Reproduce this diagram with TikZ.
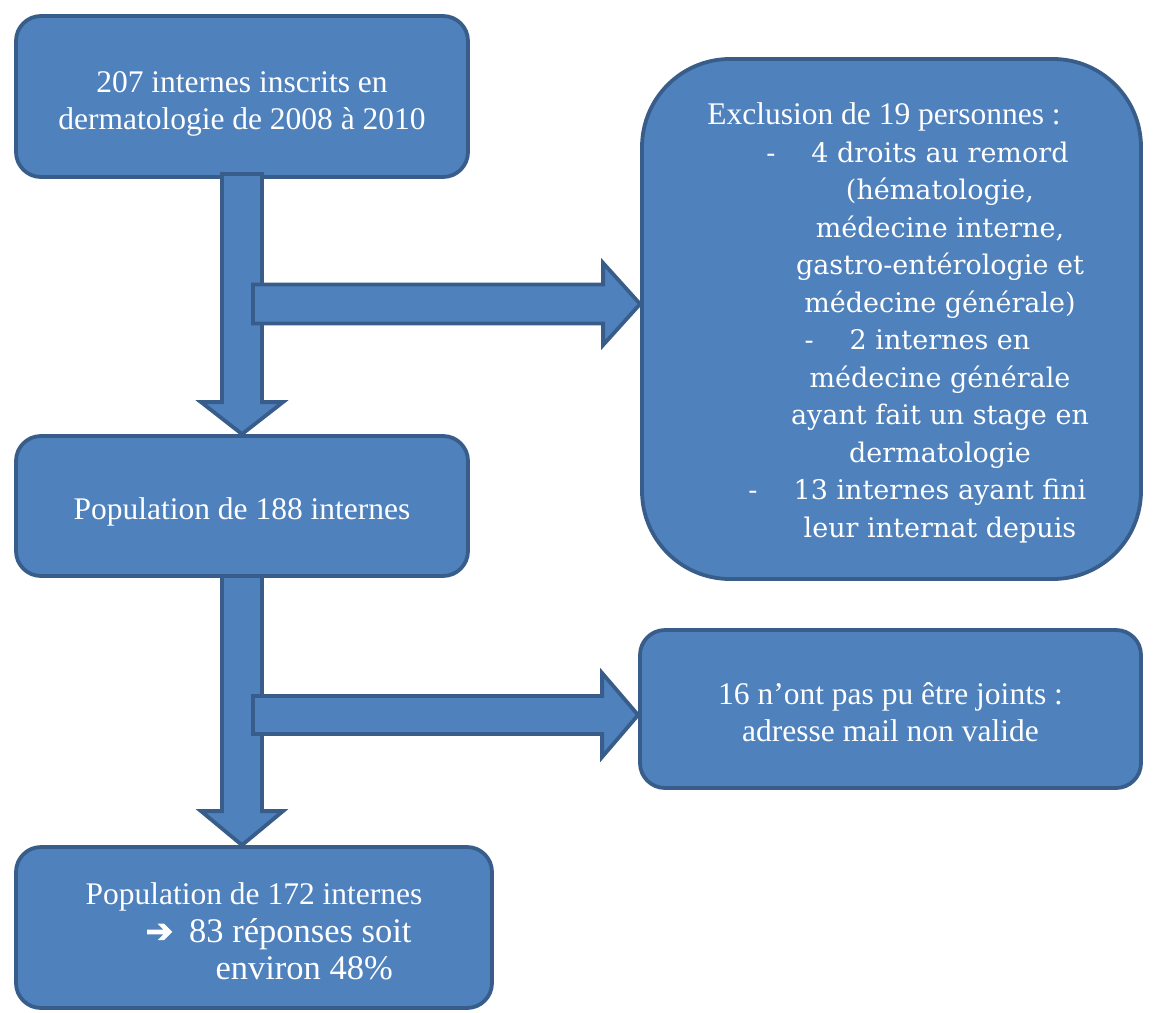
\documentclass[tikz,border=0pt]{standalone}
\usepackage{fontspec}
\setmainfont{Liberation Serif}
\newfontfamily\cambria{DejaVu Serif}
\newfontfamily\symb[FakeBold=2.5]{DejaVu Sans}
\usetikzlibrary{calc}
\definecolor{boxfill}{HTML}{4F81BD}
\definecolor{boxline}{HTML}{385D8A}
\newcommand\tstrut[1]{\rule{0pt}{#1}}
\begin{document}
\begin{tikzpicture}[x=1pt, y=-1pt,
	box/.style={draw=boxline, fill=boxfill, line width=3.8pt, rounded corners=25pt, text=white, align=center, font=\fontsize{31.5}{37.5}\selectfont},
	blk/.style={draw=boxline, fill=boxfill, line width=3.8pt},
	bul/.style={text=white, align=center, font=\cambria\fontsize{27}{37.5}\selectfont}]
	\useasboundingbox (0,0) rectangle (1153,1012);
	% boites
	\node[box, minimum width=452pt, minimum height=161pt] (inscrits) at (242,96.5) {\tstrut{36pt}207 internes inscrits en\\dermatologie de 2008 à 2010};
	\node[box, minimum width=499pt, minimum height=520pt, rounded corners=88pt] (excl) at (891.5,319) {};
	\node[bul] (excltxt) at (940,321) {\mbox{\fontsize{31.5}{37.5}\selectfont\rmfamily\tstrut{25.5pt}Exclusion de 19 personnes :\hspace{112pt}}\\
		\llap{-\hspace{36pt}}4 droits au remord\\
		(hématologie,\\ médecine interne,\\ gastro-entérologie et\\ médecine générale)\\
		\llap{-\hspace{36pt}}2 internes en\\
		médecine générale\\ ayant fait un stage en\\ dermatologie\\
		\llap{-\hspace{36pt}}13 internes ayant fini\\
		leur internat depuis};
	\node[box, minimum width=452pt, minimum height=140pt] (pop188) at (242,506) {\tstrut{34pt}Population de 188 internes};
	\node[box, minimum width=501pt, minimum height=158pt] (joints) at (890.5,709) {\tstrut{28pt}16 n’ont pas pu être joints :\\adresse mail non valide};
	\node[box, align=left, minimum width=476pt, minimum height=161pt] (pop172) at (254,927.5) {\tstrut{30pt}Population de 172 internes\\
		\hspace*{60pt}{\symb\fontsize{33}{37.5}\selectfont ➔}\hspace{16pt}{\fontsize{34.5}{37.5}\selectfont 83 réponses soit}\\
		\hspace*{130pt}{\fontsize{34.5}{37.5}\selectfont environ 48\%}};
	% fleches
	\coordinate (s1) at (253,304);
	\coordinate (t1) at (excl.west |- s1);
	\coordinate (s2) at (253,715);
	\coordinate (t2) at (joints.west |- s2);
	\coordinate (b2) at (pop188.south |- pop172.north);
	\draw[blk] ($(inscrits.south)+(-20,-5)$) -- ($(pop188.north)+(-20,-32)$) -- ($(pop188.north)+(-41,-32)$) -- (pop188.north)
		-- ($(pop188.north)+(41,-32)$) -- ($(pop188.north)+(20,-32)$) -- ($(inscrits.south)+(20,-5)$) -- cycle;
	\draw[blk] ($(s1)+(0,-19.5)$) -- ($(t1)+(-37,-19.5)$) -- ($(t1)+(-37,-41)$) -- (t1)
		-- ($(t1)+(-37,41)$) -- ($(t1)+(-37,19.5)$) -- ($(s1)+(0,19.5)$) -- cycle;
	\draw[blk] ($(pop188.south)+(-20,-2)$) -- ($(b2)+(-20,-34)$) -- ($(b2)+(-41,-34)$) -- (b2)
		-- ($(b2)+(41,-34)$) -- ($(b2)+(20,-34)$) -- ($(pop188.south)+(20,-2)$) -- cycle;
	\draw[blk] ($(s2)+(0,-19)$) -- ($(t2)+(-36,-19)$) -- ($(t2)+(-36,-42)$) -- (t2)
		-- ($(t2)+(-36,42)$) -- ($(t2)+(-36,19)$) -- ($(s2)+(0,19)$) -- cycle;
\end{tikzpicture}
\end{document}
